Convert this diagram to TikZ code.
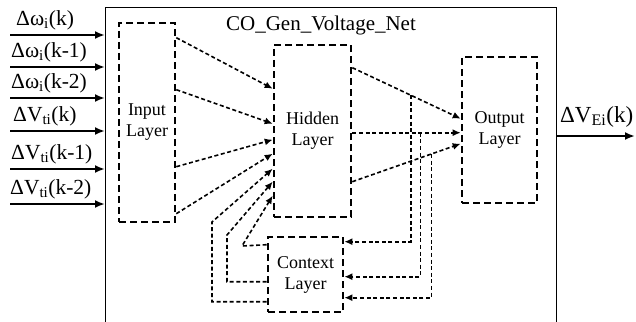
\documentclass[tikz,border=0pt]{standalone}
\usepackage{fontspec}
\setmainfont{Liberation Serif}
\usetikzlibrary{arrows.meta}
\begin{document}
\begin{tikzpicture}[x=1pt,y=-1pt,
  layerbox/.style={draw, line width=2.6pt, dash pattern=on 7pt off 4pt, inner sep=0pt, align=center, font=\fontsize{18}{21}\selectfont},
  conn/.style={line width=1.6pt, dash pattern=on 4pt off 2.6pt},
  connarrow/.style={conn, -{Latex[length=8pt,width=7pt]}},
  inarrow/.style={line width=2.2pt, -{Latex[length=10pt,width=8pt]}},
  inlabel/.style={anchor=base west, inner sep=0pt, font=\fontsize{21.5}{25}\selectfont},
  framebox/.style={draw, line width=1pt, inner sep=0pt}]
\useasboundingbox (0,0) rectangle (636,321);
% outer frame
\node[framebox, minimum width=451pt, minimum height=330pt, anchor=north west] (net) at (105,7) {};
\node[font=\fontsize{21}{25}\selectfont] (title) at (321,25) {CO\_Gen\_Voltage\_Net};
% layers
\node[layerbox, minimum width=56pt, minimum height=199pt] (inp) at (147,122.5) {Input\\Layer};
\node[layerbox, minimum width=77pt, minimum height=172pt] (hid) at (312.5,131) {Hidden\\Layer};
\node[layerbox, minimum width=75pt, minimum height=146pt] (out) at (499.5,130) {Output\\Layer};
\node[layerbox, minimum width=75pt, minimum height=75pt] (ctx) at (305.5,274.5) {Context\\Layer};
% inputs
\coordinate (s1) at (10,35);
\coordinate (s2) at (10,67);
\coordinate (s3) at (10,98);
\coordinate (s4) at (10,131);
\coordinate (s5) at (10,169);
\coordinate (s6) at (10,204);
\foreach \i in {1,...,6} {\draw[inarrow] (s\i) -- (s\i -| net.west);}
\node[inlabel] (l1) at (16,25.5) {Δω\textsubscript{i}(k)};
\node[inlabel] (l2) at (11,57.5) {Δω\textsubscript{i}(k-1)};
\node[inlabel] (l3) at (11,88.5) {Δω\textsubscript{i}(k-2)};
\node[inlabel] (l4) at (13,121.5) {ΔV\textsubscript{ti}(k)};
\node[inlabel] (l5) at (11,159.5) {ΔV\textsubscript{ti}(k-1)};
\node[inlabel] (l6) at (10,194.5) {ΔV\textsubscript{ti}(k-2)};
% output
\coordinate (oend) at (635,136);
\draw[inarrow] (oend -| net.east) -- (oend);
\node[inlabel, font=\fontsize{23}{27}\selectfont] (lo) at (560,122) {ΔV\textsubscript{Ei}(k)};
% input -> hidden
\draw[connarrow] ([yshift=-16pt]inp.north east) -- ([yshift=-45pt]hid.north west);
\draw[connarrow] ([yshift=-68pt]inp.north east) -- ([yshift=-80pt]hid.north west);
\draw[connarrow] ([yshift=-145pt]inp.north east) -- ([yshift=-96pt]hid.north west);
\draw[connarrow] ([yshift=-192pt]inp.north east) -- ([yshift=-110pt]hid.north west);
% context -> hidden
\draw[connarrow] ([yshift=-66pt]ctx.north west) -| (212,222) -- ([yshift=-125pt]hid.north west);
\draw[connarrow] ([yshift=-46pt]ctx.north west) -| (227,235) -- ([yshift=-138pt]hid.north west);
\draw[connarrow] ([yshift=-9pt]ctx.north west) -- (242,246) -- ([yshift=-152pt]hid.north west);
% hidden -> output
\draw[connarrow] ([yshift=-24pt]hid.north east) -- coordinate[pos=0.54] (t1) ([yshift=-63pt]out.north west);
\draw[connarrow] ([yshift=-89pt]hid.north east) -- coordinate[pos=0.63] (t2) ([yshift=-77pt]out.north west);
\draw[connarrow] ([yshift=-138pt]hid.north east) -- coordinate[pos=0.73] (t3) ([yshift=-88pt]out.north west);
% feedback to context
\draw[connarrow] (t1) |- ([yshift=-6pt]ctx.north east);
\draw[connarrow] (t2) |- ([yshift=-41pt]ctx.north east);
\draw[connarrow] (t3) |- ([yshift=-62pt]ctx.north east);
\end{tikzpicture}
\end{document}
